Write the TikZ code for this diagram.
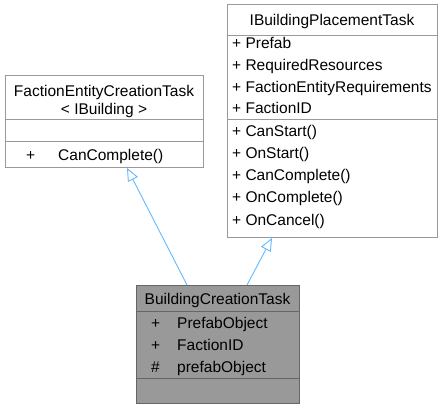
\documentclass[tikz,border=0pt]{standalone}
\usepackage{fontspec}
\setmainfont{Liberation Sans}
\usetikzlibrary{arrows.meta}
\definecolor{edgeblue}{HTML}{63B8FF}
\definecolor{boxline}{HTML}{999999}
\definecolor{mainfill}{HTML}{999999}
\definecolor{mainline}{HTML}{666666}
\tikzset{
  classbox/.style={draw=boxline, fill=white, line width=0.9pt, anchor=north west, inner sep=0pt},
  mainbox/.style={draw=mainline, fill=mainfill, line width=0.9pt, anchor=north west, inner sep=0pt},
  sepline/.style={draw=boxline, line width=0.9pt},
  mainsep/.style={draw=mainline, line width=0.9pt},
  txt/.style={inner sep=0pt, font=\fontsize{15.5pt}{18pt}\selectfont, text=black, anchor=base},
  ltxt/.style={txt, anchor=base west},
  inh/.style={draw=edgeblue, line width=0.9pt, -{Triangle[open, length=13pt, width=11pt, fill=white]}}
}
\begin{document}
\begin{tikzpicture}[x=1pt, y=-1pt]
\useasboundingbox (0,0) rectangle (443,409);
% left parent
\node[classbox, minimum width=198pt, minimum height=92pt] (fect) at (5,75) {};
\draw[sepline] (5,119) -- (203,119);
\draw[sepline] (5,141) -- (203,141);
\node[txt] (fectt1) at (104,96.5) {FactionEntityCreationTask};
\node[txt] (fectt2) at (104,114) {< IBuilding >};
\node[ltxt] (fectm1a) at (26,160.5) {+};
\node[ltxt] (fectm1b) at (58,160.5) {CanComplete()};
% right parent
\node[classbox, minimum width=210pt, minimum height=233pt] (ibpt) at (227,4) {};
\draw[sepline] (227,35) -- (437,35);
\draw[sepline] (227,119) -- (437,119);
\node[txt] (ibptt) at (332,25.5) {IBuildingPlacementTask};
\node[ltxt] (ibpa1) at (232,48.5) {+ Prefab};
\node[ltxt] (ibpa2) at (232,70.5) {+ RequiredResources};
\node[ltxt] (ibpa3) at (232,92.5) {+ FactionEntityRequirements};
\node[ltxt] (ibpa4) at (232,113.5) {+ FactionID};
\node[ltxt] (ibpm1) at (232,136.5) {+ CanStart()};
\node[ltxt] (ibpm2) at (232,158.5) {+ OnStart()};
\node[ltxt] (ibpm3) at (232,180.5) {+ CanComplete()};
\node[ltxt] (ibpm4) at (232,202.5) {+ OnComplete()};
\node[ltxt] (ibpm5) at (232,225.5) {+ OnCancel()};
% main class
\node[mainbox, minimum width=163pt, minimum height=118pt] (bct) at (136,285) {};
\draw[mainsep] (136,311) -- (299,311);
\draw[mainsep] (136,378) -- (299,378);
\node[txt] (bctt) at (217.5,304.5) {BuildingCreationTask};
\node[ltxt] (bcta1) at (151,328.5) {+};
\node[ltxt] (bcta1b) at (177,328.5) {PrefabObject};
\node[ltxt] (bcta2) at (151,350.5) {+};
\node[ltxt] (bcta2b) at (177,350.5) {FactionID};
\node[ltxt] (bcta3) at (151,372.5) {\#};
\node[ltxt] (bcta3b) at (177,372.5) {prefabObject};
% inheritance
\draw[inh] ([xshift=51pt]bct.north west) -- ([xshift=122pt]fect.south west);
\draw[inh] ([xshift=111pt]bct.north west) -- ([xshift=45pt]ibpt.south west);
\end{tikzpicture}
\end{document}
